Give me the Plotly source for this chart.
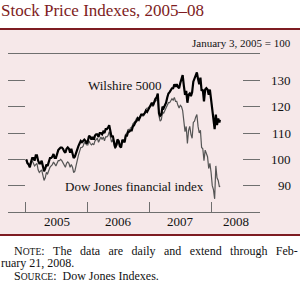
import plotly.graph_objects as go
import pandas as pd

# ---------------- data (January 3, 2005 = 100) ----------------
dates = list(pd.date_range("2005-01-03", "2008-02-18", freq="7D").strftime("%Y-%m-%d")) + ["2008-02-21"]

wilshire_2005 = [100, 98.5, 98, 97, 99, 100.5, 100.5, 99.5, 101.5, 101.5,
                 99.5, 98.5, 98.5, 99.5, 97.5, 95.5, 96.5, 98, 97.5, 99.5,
                 100.5, 100.5, 101, 102, 100.5, 100.5, 102, 103.5, 104, 104.5,
                 104.5, 104, 103, 102.5, 104, 104.5, 104, 102.5, 104, 102.5,
                 100.5, 101, 102.5, 104, 105, 106, 107, 106.5, 107, 107.5,
                 107, 106]
wilshire_2006 = [107, 109, 108.5, 107.5, 108.5, 107.5, 109, 109.5, 109.5, 108.5,
                 110, 110, 109.5, 110.5, 110, 111.5, 111.5, 112, 113, 110,
                 108.5, 109, 106.5, 104.5, 105.5, 107.5, 107, 105, 104.5, 107,
                 107, 106.5, 109, 109, 110.5, 110.5, 111, 111, 112.5, 113,
                 114, 114.5, 115.5, 115, 116, 117, 117, 117, 117.5, 118.5,
                 118, 119]
wilshire_2007 = [120, 120.5, 121.5, 120.5, 122, 123, 123.5, 125, 117.5, 116.5,
                 117, 120, 119.5, 120.5, 121.5, 123.5, 125, 125.5, 126.5, 127,
                 127, 128.5, 127.5, 128.5, 127.5, 127, 129, 130.5, 132, 128,
                 124.5, 126, 121.5, 124.5, 125, 124, 125.5, 129.5, 130.5, 132,
                 133, 130.5, 128.5, 131, 126, 126.5, 122, 126.5, 127, 126.5,
                 124.5, 126.5, 123]
wilshire_2008 = [118, 114.5, 111.5, 117, 113, 115.5, 114, 115]

djfin_2005 = [100, 98.5, 98.5, 97, 98.5, 99.5, 98.5, 97.5, 98, 98.5,
              96, 95, 95.5, 96, 94, 92, 93, 95, 94.5, 96,
              97, 97.5, 98, 99, 98, 97.5, 98.5, 99.5, 99.5, 100,
              99.5, 98.5, 97.5, 97, 98.5, 99, 98.5, 97, 98, 97,
              95, 95.5, 97.5, 100, 101.5, 103, 104.5, 104.5, 105, 106.5,
              106, 105.5]
djfin_2006 = [105.5, 107, 106, 105.5, 106, 105.5, 107, 107.5, 108, 106.5,
              108, 108.5, 107.5, 108.5, 107, 108.5, 108.5, 109, 110.5, 108,
              106.5, 107.5, 105.5, 104, 105, 106.5, 107, 105, 105.5, 107.5,
              107.5, 107.5, 109.5, 110, 111.5, 111, 112, 112, 113.5, 114,
              114.5, 115.5, 116, 115.5, 116.5, 117, 116.5, 116.5, 117.5, 119,
              119.5, 119.5]
djfin_2007 = [120, 120, 121, 120, 121.5, 122, 122.5, 123.5, 116.5, 114.5,
              115, 118, 117.5, 118.5, 119.5, 121, 121.5, 121.5, 122.5, 123,
              122.5, 123.5, 122, 122, 120.5, 119.5, 120.5, 120, 118.5, 114.5,
              110.5, 112.5, 106, 111, 112.5, 109.5, 108, 114, 114.5, 116,
              117, 112.5, 110, 111, 104.5, 104, 99.5, 103.5, 102.5, 101,
              96.5, 98.5, 95]
djfin_2008 = [90, 88.5, 85, 97.5, 93, 92, 89.5, 90]

wilshire = wilshire_2005 + wilshire_2006 + wilshire_2007 + wilshire_2008
djfin = djfin_2005 + djfin_2006 + djfin_2007 + djfin_2008

y_ticks = [90, 100, 110, 120, 130]
year_labels = ["2005", "2006", "2007", "2008"]
year_starts = ["2005-01-01", "2006-01-01", "2007-01-01", "2008-01-01"]
x_range = ["2004-09-17", "2008-10-15"]
y_range = [80, 140]

# ---------------- layout helpers (pixel -> paper) ----------------
W, H = 300, 283
ML, MR, MT, MB = 8, 40, 54, 71
PW, PH = W - ML - MR, H - MT - MB


def px(x):
    return (x - ML) / PW


def py(y):
    return (H - MB - y) / PH


SERIF = "Liberation Serif, Times New Roman, serif"
AXIS_GRAY = "#6f6f6f"
MAROON = "#7e1c22"
PINK = "#f6e8e9"

fig = go.Figure()
fig.add_trace(go.Scatter(x=dates, y=djfin, mode="lines",
                         line=dict(color="#555555", width=1.2), hoverinfo="skip"))
fig.add_trace(go.Scatter(x=dates, y=wilshire, mode="lines", yaxis="y2",
                         line=dict(color="#000000", width=2.2), hoverinfo="skip"))


def note(text, x, y, size, anchor="left", color="#111", xref="paper", yref="paper", yanchor="middle"):
    return dict(text=text, x=x, y=y, xref=xref, yref=yref, xanchor=anchor, yanchor=yanchor,
                align="left", showarrow=False, borderpad=0,
                font=dict(family=SERIF, size=size, color=color))


annotations = []
annotations.append(note("Stock Price Indexes, 2005\u201308", px(0), py(10.5), 17, color=MAROON))
annotations.append(note("January 3, 2005 = 100", px(292), py(43), 11, anchor="right"))
for v in y_ticks:
    annotations.append(note(str(v), px(292), v, 13, anchor="right", yref="y"))
bounds = [pd.Timestamp(d) for d in year_starts] + [pd.Timestamp(x_range[1])]
for i, lab in enumerate(year_labels):
    mid = bounds[i] + (bounds[i + 1] - bounds[i]) / 2
    annotations.append(note(lab, mid.strftime("%Y-%m-%d"), py(222), 13, anchor="center", xref="x"))
annotations.append(note("Wilshire 5000", px(87), py(85), 13))
annotations.append(note("Dow Jones financial index", px(64), py(186), 13))

# notes block: one annotation; base font 9.5 gives ~12.3px line spacing, text spans are 12px
sc = "<span style='font-size:9.6px'>%s</span>"
big = "<span style='font-size:12px'>%s</span>"
gap = "\u2002\u2009"
indent = "\u2003\u200a"
line1 = big % (indent + "N") + sc % "OTE" + big % (":" + gap + gap.join(
    ["The", "data", "are", "daily", "and", "extend", "through", "Feb-"]))
line2 = big % "ruary 21, 2008."
line3 = big % (indent + "S") + sc % "OURCE" + big % (":\u2002Dow Jones Indexes.")
annotations.append(note("<br>".join([line1, line2, line3]), px(0), py(263), 9.5))

shapes = [
    dict(type="rect", xref="paper", yref="paper", x0=px(-2), x1=px(302), y0=py(235), y1=py(29),
         fillcolor=PINK, line=dict(width=0), layer="below"),
    dict(type="line", xref="paper", yref="paper", x0=px(-2), x1=px(302), y0=py(29), y1=py(29),
         line=dict(color=MAROON, width=2)),
    dict(type="line", xref="paper", yref="paper", x0=px(-2), x1=px(302), y0=py(235), y1=py(235),
         line=dict(color=MAROON, width=2)),
]

axis_y = dict(range=y_range, tickvals=y_ticks, ticks="inside", ticklen=17, tickwidth=1,
              tickcolor=AXIS_GRAY, showticklabels=False, showgrid=False, zeroline=False,
              showline=False, fixedrange=True)

fig.update_layout(
    width=W, height=H, autosize=False,
    margin=dict(l=ML, r=MR, t=MT, b=MB, pad=0),
    paper_bgcolor="white", plot_bgcolor="rgba(0,0,0,0)",
    showlegend=False,
    xaxis=dict(type="date", range=x_range,
               tickvals=[x_range[0]] + year_starts + [x_range[1]],
               ticks="inside", ticklen=10, tickwidth=1, tickcolor=AXIS_GRAY,
               showticklabels=False, showgrid=False, zeroline=False,
               showline=True, linecolor=AXIS_GRAY, linewidth=1, mirror=True),
    yaxis=dict(**axis_y, side="left"),
    yaxis2=dict(**axis_y, side="right", overlaying="y"),
    annotations=annotations,
    shapes=shapes,
)

fig.write_html("out.html", config={"displayModeBar": False, "staticPlot": True})
